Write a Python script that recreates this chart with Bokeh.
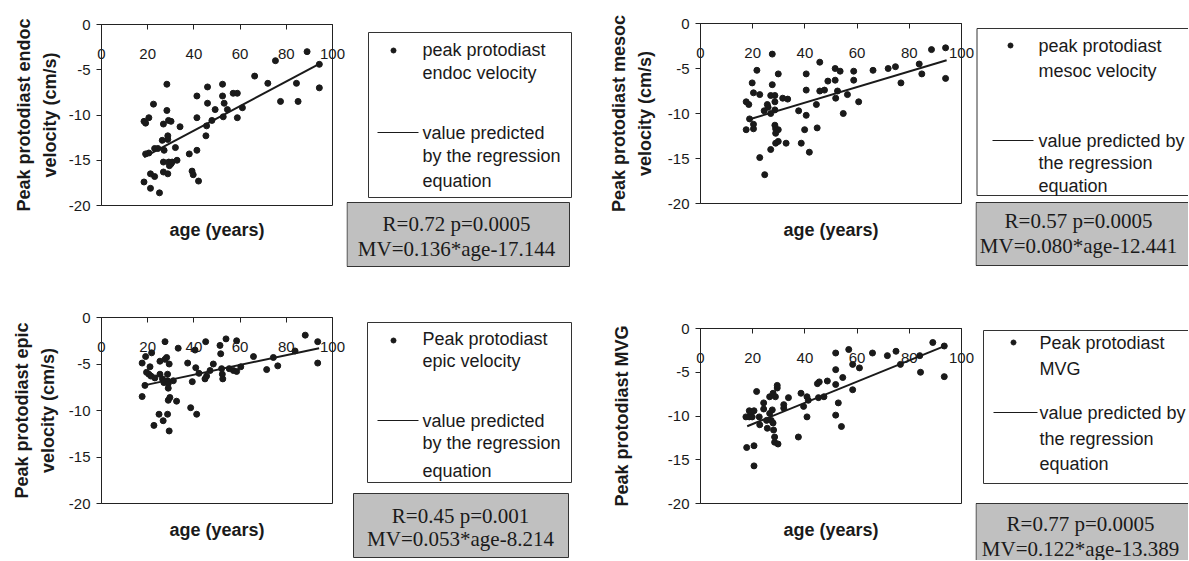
from bokeh.plotting import figure
from bokeh.models import LinearAxis, FixedTicker, Range1d
from bokeh.core.properties import value
from bokeh.layouts import column, row
from bokeh.embed import file_html
from bokeh.resources import INLINE

# ---------------- data ----------------
endoc_age = [18.4, 18.4, 19.1, 20.5, 19.1, 20.5, 21.2, 21.2, 22.5, 23.0, 23.0, 24.4, 25.1, 26.3, 26.8,
             26.8, 27.1, 26.8, 28.3, 28.3, 28.7, 28.7, 28.7, 29.0, 29.4, 29.1, 30.1, 30.1, 30.6, 32.0,
             32.7, 34.0, 38.0, 39.2, 39.7, 41.3, 41.3, 41.3, 42.0, 45.2, 45.5, 45.9, 45.9, 47.8, 49.2,
             52.4, 52.4, 52.7, 53.1, 54.5, 57.0, 58.8, 58.8, 61.0, 66.3, 72.0, 75.3, 77.5, 84.4, 85.1,
             89.0, 94.3, 94.3]
endoc_vel = [-17.4, -10.7, -10.9, -10.3, -14.3, -14.2, -16.5, -18.1, -8.8, -16.8, -13.7, -13.7, -18.6, -12.8, -15.2,
             -11.0, -13.9, -16.3, -6.6, -9.5, -12.3, -12.7, -16.5, -10.6, -15.6, -15.2, -10.7, -15.4, -15.2, -13.6,
             -15.0, -11.3, -14.3, -16.2, -16.6, -7.9, -10.3, -13.9, -17.3, -12.3, -11.2, -6.9, -8.7, -10.6, -9.4,
             -6.6, -7.9, -10.2, -8.7, -9.4, -7.6, -7.6, -10.3, -9.2, -5.7, -6.5, -4.0, -8.5, -6.5, -8.5,
             -3.0, -4.4, -7.0]
endoc_fit_age = [18.4, 94.3]
endoc_fit_vel = [-14.66, -4.35]

mesoc_age = [17.5, 18.5, 17.5, 18.8, 19.8, 20.3, 20.3, 20.3, 21.6, 22.7, 22.7, 24.4, 24.6, 25.6, 25.9,
             26.9, 26.9, 26.9, 27.5, 27.5, 28.5, 28.5, 28.5, 28.5, 28.8, 28.8, 28.8, 29.8, 29.8, 29.8,
             31.5, 32.8, 33.4, 37.6, 38.6, 39.9, 40.5, 40.5, 40.5, 41.7, 44.4, 44.7, 45.7, 45.7, 47.5,
             48.8, 51.6, 51.6, 51.8, 52.5, 53.5, 54.7, 56.3, 58.7, 58.7, 60.6, 66.1, 71.9, 74.7, 76.8,
             83.8, 84.8, 88.5, 93.9, 93.9]
mesoc_vel = [-8.7, -9.0, -11.8, -10.6, -6.6, -7.7, -11.2, -11.7, -5.2, -7.9, -14.9, -9.7, -16.8, -9.0, -9.3,
             -8.0, -10.0, -14.0, -3.4, -6.8, -8.0, -8.7, -9.6, -11.3, -11.7, -12.2, -13.3, -5.6, -11.8, -13.1,
             -8.3, -13.3, -8.4, -9.7, -13.3, -11.8, -5.6, -7.4, -10.2, -14.3, -9.0, -11.6, -4.3, -7.5, -7.4,
             -6.4, -5.0, -6.3, -8.3, -7.5, -5.3, -10.0, -7.9, -5.3, -6.3, -8.7, -5.2, -5.0, -4.8, -6.6,
             -4.5, -5.6, -2.9, -2.7, -6.1]
mesoc_fit_age = [18.5, 94.3]
mesoc_fit_vel = [-10.67, -4.09]

epic_age = [17.6, 17.6, 18.8, 19.1, 19.5, 20.5, 21.0, 21.7, 21.4, 22.7, 23.1, 24.9, 25.3, 25.3, 26.4,
            26.7, 27.0, 27.5, 27.5, 28.2, 28.6, 28.6, 28.6, 28.9, 28.9, 28.9, 29.3, 29.3, 29.6, 31.1,
            32.5, 33.2, 37.3, 38.6, 39.3, 40.5, 40.8, 41.2, 42.2, 44.8, 45.1, 45.5, 47.0, 48.4, 51.3,
            51.6, 52.0, 52.3, 52.5, 53.9, 55.3, 57.1, 58.5, 58.5, 60.3, 65.8, 71.5, 74.4, 76.3, 83.8,
            88.2, 93.6, 93.6]
epic_vel = [-4.9, -8.5, -7.3, -4.2, -5.9, -6.1, -5.3, -3.8, -6.3, -11.6, -6.5, -10.4, -6.1, -4.7, -6.6,
            -11.1, -7.0, -2.6, -4.5, -4.3, -6.1, -6.8, -10.4, -7.1, -7.6, -8.9, -5.0, -12.2, -8.6, -6.8,
            -9.0, -3.3, -4.9, -9.7, -6.9, -3.5, -5.4, -10.4, -6.0, -6.6, -2.6, -6.3, -5.7, -5.0, -3.0,
            -3.9, -5.5, -6.1, -6.6, -2.3, -5.5, -5.7, -2.5, -5.8, -5.3, -4.2, -5.6, -4.3, -5.2, -3.6,
            -1.9, -2.6, -4.9]
epic_fit_age = [18.4, 94.2]
epic_fit_vel = [-7.3, -3.3]

mvg_age = [17.4, 17.7, 18.7, 18.7, 19.3, 19.8, 20.5, 20.5, 20.5, 21.5, 22.5, 22.7, 24.2, 24.2, 25.3,
           25.6, 26.5, 26.5, 27.1, 27.5, 27.8, 27.8, 28.0, 28.4, 28.4, 28.7, 29.4, 29.4, 29.7, 31.9,
           31.9, 33.7, 37.5, 38.5, 39.5, 40.8, 40.8, 41.3, 44.8, 45.2, 45.5, 47.3, 48.6, 51.8, 51.8,
           51.8, 51.8, 52.8, 54.0, 54.5, 56.8, 58.3, 58.3, 60.9, 65.9, 71.6, 74.9, 76.6, 84.0, 84.3,
           89.0, 93.4, 93.4]
mvg_vel = [-10.1, -13.6, -9.4, -10.1, -9.7, -10.1, -13.4, -15.7, -9.4, -7.2, -10.1, -11.0, -8.5, -9.2, -10.5,
           -11.4, -7.8, -9.7, -10.5, -9.3, -7.4, -10.8, -11.6, -12.4, -13.0, -7.8, -6.8, -6.5, -13.2, -8.7,
           -9.1, -7.9, -12.4, -7.4, -8.9, -7.8, -10.1, -8.2, -6.3, -7.9, -6.1, -7.8, -6.0, -2.8, -4.7,
           -6.4, -9.9, -8.5, -11.2, -5.6, -2.4, -4.1, -7.0, -4.5, -2.8, -3.1, -2.6, -4.1, -3.1, -5.0,
           -1.6, -2.0, -5.5]
mvg_fit_age = [17.9, 93.7]
mvg_fit_vel = [-11.17, -1.99]

x_ticks = [0, 20, 40, 60, 80, 100]
x_tick_labels = ["0", "20", "40", "60", "80", "100"]
y_ticks = [-20, -15, -10, -5, 0]
y_tick_labels = ["-20", "-15", "-10", "-5", "0"]

x_title = "age (years)"
y_titles = ["Peak protodiast endoc\nvelocity (cm/s)", "Peak protodiast mesoc\nvelocity (cm/s)",
            "Peak protodiast epic\nvelocity (cm/s)", "Peak protodiast MVG"]
legend_texts = [
    ["peak protodiast", "endoc velocity", "value predicted", "by the regression", "equation"],
    ["peak protodiast", "mesoc velocity", "value predicted by", "the regression", "equation"],
    ["Peak protodiast", "epic velocity", "value predicted", "by the regression", "equation"],
    ["Peak protodiast", "MVG", "value predicted by", "the regression", "equation"],
]
stats_texts = [
    ["R=0.72 p=0.0005", "MV=0.136*age-17.144"],
    ["R=0.57 p=0.0005", "MV=0.080*age-12.441"],
    ["R=0.45 p=0.001", "MV=0.053*age-8.214"],
    ["R=0.77 p=0.0005", "MV=0.122*age-13.389"],
]

# ---------------- layout / style (pixels) ----------------
SANS = "Liberation Sans"
SERIF = "Liberation Serif"
INK = "#1a1a1a"
EDGE = "#222222"

plot_geo = [
    dict(w=346, h=290, bl=101, br=14, bt=24, bb=85, ylab_sd=6, xlab_sd=14),
    dict(w=383, h=290, bl=108, br=14, bt=23, bb=87, ylab_sd=10, xlab_sd=16),
    dict(w=346, h=270, bl=101, br=14, bt=27, bb=57, ylab_sd=8, xlab_sd=16),
    dict(w=383, h=270, bl=108, br=14, bt=38, bb=57, ylab_sd=33, xlab_sd=16),
]
# side canvases: pixel coordinates, y measured downward from the top
side_geo = [
    dict(w=246, h=290, lbox=(22, 225, 32, 197), sbox=(0.5, 223, 202, 266), dot=(47, 50), ls=(31, 72, 132),
         tx=76, tys=[49, 72, 132, 155, 180], scx=110, sys=[223, 248]),
    dict(w=213, h=290, lbox=(1.5, 230, 28, 195), sbox=(0.5, 230, 202, 265), dot=(35, 45), ls=(17, 58, 140),
         tx=63, tys=[45, 70, 140, 162, 185], scx=103, sys=[220, 245]),
    dict(w=246, h=270, lbox=(21, 225, 32, 192), sbox=(7, 222, 203, 267), dot=(47, 50), ls=(31, 72, 130),
         tx=76, tys=[48, 70, 130, 152, 180], scx=114, sys=[225, 248]),
    dict(w=213, h=270, lbox=(8, 230, 40, 193), sbox=(0.5, 230, 213, 280), dot=(38, 52), ls=(18, 62, 122),
         tx=64, tys=[52, 78, 122, 148, 173], scx=105, sys=[233, 258]),
]


def make_plot(ages, vels, fit_x, fit_y, ytitle, g):
    p = figure(width=g["w"], height=g["h"], x_range=Range1d(0, 100), y_range=Range1d(-20, 0),
               output_backend="svg", toolbar_location=None,
               x_axis_location=None, y_axis_location=None,
               min_border_left=g["bl"], min_border_right=g["br"],
               min_border_top=g["bt"], min_border_bottom=g["bb"])
    p.xgrid.visible = False
    p.ygrid.visible = False
    p.outline_line_color = EDGE
    p.outline_line_width = 1
    p.background_fill_color = "white"
    p.border_fill_color = "white"

    yax = LinearAxis(ticker=FixedTicker(ticks=y_ticks),
                     major_label_overrides=dict(zip(y_ticks, y_tick_labels)),
                     axis_label=ytitle, axis_label_standoff=g["ylab_sd"],
                     axis_label_text_font=SANS, axis_label_text_font_style="bold",
                     axis_label_text_font_size="18px", axis_label_text_color=INK,
                     axis_label_text_line_height=1.3,
                     major_label_text_font=SANS, major_label_text_font_size="15px",
                     major_label_text_color=INK, major_label_standoff=6,
                     major_tick_out=5, major_tick_in=0, major_tick_line_color=EDGE,
                     minor_tick_line_color=None, axis_line_color=EDGE)
    p.add_layout(yax, "left")

    xax = LinearAxis(ticker=FixedTicker(ticks=x_ticks),
                     major_label_overrides=dict(zip(x_ticks, x_tick_labels)),
                     major_label_text_font=SANS, major_label_text_font_size="15px",
                     major_label_text_color=INK, major_label_standoff=-34,
                     major_tick_out=0, major_tick_in=5, major_tick_line_color=EDGE,
                     minor_tick_line_color=None, axis_line_color=EDGE)
    p.add_layout(xax, "above")

    bax = LinearAxis(ticker=FixedTicker(ticks=[]), axis_label=x_title,
                     axis_label_text_font=SANS, axis_label_text_font_style="bold",
                     axis_label_text_font_size="18px", axis_label_text_color=INK,
                     axis_label_standoff=g["xlab_sd"], major_label_standoff=0,
                     major_tick_out=0, major_tick_in=0,
                     major_tick_line_color=None, minor_tick_line_color=None, axis_line_color=None)
    p.add_layout(bax, "below")

    p.scatter(ages, vels, size=6, color=INK, marker="circle")
    p.line(fit_x, fit_y, line_width=2, color=INK)
    return p


def make_side(legend, stats, g):
    s = figure(width=g["w"], height=g["h"], x_range=Range1d(0, g["w"]), y_range=Range1d(g["h"], 0),
               output_backend="svg", toolbar_location=None,
               x_axis_location=None, y_axis_location=None,
               min_border_left=0, min_border_right=0, min_border_top=0, min_border_bottom=0)
    s.xgrid.visible = False
    s.ygrid.visible = False
    s.outline_line_color = None
    s.background_fill_color = "white"
    s.border_fill_color = "white"

    l, r, t, b = g["lbox"]
    s.quad(left=[l], right=[r], top=[t], bottom=[b], fill_color="white", line_color="#333333", line_width=1)
    dx, dy = g["dot"]
    s.scatter([dx], [dy], size=5, color=INK, marker="circle")
    x0, x1, ly = g["ls"]
    s.line([x0, x1], [ly, ly], line_width=1, color=INK)
    s.text(x=[g["tx"]] * len(legend), y=g["tys"], text=legend,
           text_font=value(SANS), text_font_size="18px", text_color=INK,
           text_align="left", text_baseline="middle")

    l, r, t, b = g["sbox"]
    s.quad(left=[l], right=[r], top=[t], bottom=[b], fill_color="#c0c0c0", line_color="#333333", line_width=1)
    s.text(x=[g["scx"]] * len(stats), y=g["sys"], text=stats,
           text_font=value(SERIF), text_font_size="21px", text_color=INK,
           text_align="center", text_baseline="middle")
    return s


p1 = make_plot(endoc_age, endoc_vel, endoc_fit_age, endoc_fit_vel, y_titles[0], plot_geo[0])
p2 = make_plot(mesoc_age, mesoc_vel, mesoc_fit_age, mesoc_fit_vel, y_titles[1], plot_geo[1])
p3 = make_plot(epic_age, epic_vel, epic_fit_age, epic_fit_vel, y_titles[2], plot_geo[2])
p4 = make_plot(mvg_age, mvg_vel, mvg_fit_age, mvg_fit_vel, y_titles[3], plot_geo[3])

s1 = make_side(legend_texts[0], stats_texts[0], side_geo[0])
s2 = make_side(legend_texts[1], stats_texts[1], side_geo[1])
s3 = make_side(legend_texts[2], stats_texts[2], side_geo[2])
s4 = make_side(legend_texts[3], stats_texts[3], side_geo[3])

page = row(column(p1, p3, spacing=0), column(s1, s3, spacing=0),
           column(p2, p4, spacing=0), column(s2, s4, spacing=0), spacing=0)
open("out.html", "w").write(file_html(page, INLINE))
